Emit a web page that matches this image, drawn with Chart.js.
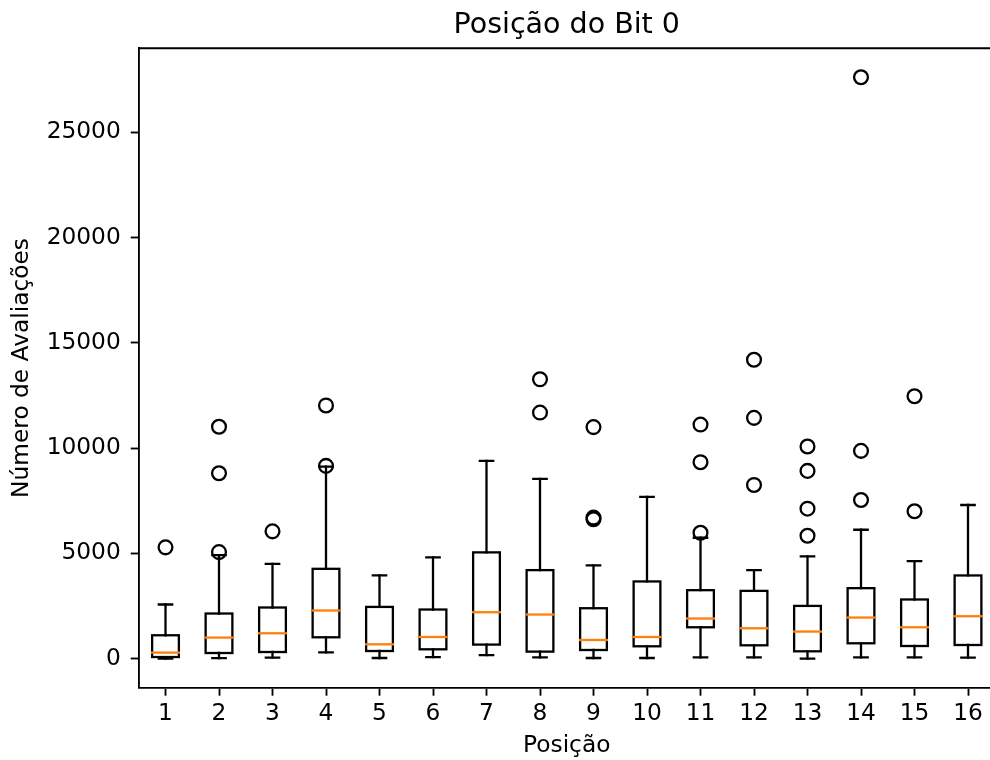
<!DOCTYPE html>
<html lang="pt">
<head>
<meta charset="utf-8">
<title>Posição do Bit 0</title>
<script src="https://cdn.jsdelivr.net/npm/chart.js@4/dist/chart.umd.min.js"></script>
<style>
    html, body { margin: 0; padding: 0; background: #fff; overflow: hidden; }
    #grafico { display: block; }
</style>
</head>
<body>
<canvas id="grafico" width="1000" height="760"></canvas>
<script>
/**
 * Boxplot - número de avaliações por posição do bit 0
 */

const posicoes = ['1', '2', '3', '4', '5', '6', '7', '8', '9', '10', '11', '12', '13', '14', '15', '16'];

// limites dos bigodes, quartis e medianas
const bigodeInf = [0, 20, 48, 300, 29, 76, 171, 62, 29, 29, 62, 62, 0, 62, 62, 48];
const quartil1 = [76, 267, 314, 1014, 362, 443, 667, 333, 410, 586, 1490, 633, 348, 729, 600, 648];
const medianas = [286, 1000, 1205, 2286, 681, 1029, 2205, 2095, 886, 1029, 1905, 1443, 1286, 1952, 1490, 2014];
const quartil3 = [1110, 2143, 2429, 4267, 2457, 2333, 5048, 4205, 2395, 3667, 3252, 3219, 2505, 3348, 2810, 3952];
const bigodeSup = [2571, 4919, 4505, 9124, 3952, 4810, 9395, 8538, 4429, 7681, 5743, 4205, 4857, 6124, 4633, 7300];

// pontos fora dos bigodes
const outliers = [
    [5286],
    [5062, 8810, 11014],
    [6048],
    [9157, 12029],
    [],
    [],
    [],
    [11690, 13270],
    [6620, 6700, 11000],
    [],
    [5981, 9333, 11120],
    [8252, 11440, 14200],
    [5838, 7124, 8919, 10076],
    [7538, 9871, 27620],
    [7000, 12467],
    []
];

const yTicks = [0, 5000, 10000, 15000, 20000, 25000];

const FONTE = "'DejaVu Sans', sans-serif";
const LARGURA_LINHA = 2.3;
const LARGURA_EIXO = 1.85;

/**
 * Contorno das caixas, bigodes, tampas, medianas e moldura superior/direita
 */
const bigodesPlugin = {
    id: 'bigodes',
    afterDatasetsDraw(chart) {
        const ctx = chart.ctx;
        const y = chart.scales.y;
        const caixas = chart.getDatasetMeta(0).data;

        ctx.save();
        ctx.lineWidth = LARGURA_LINHA;
        ctx.lineCap = 'square';
        ctx.lineJoin = 'miter';

        caixas.forEach((caixa, i) => {
            const { x, y: topo, base, width } = caixa.getProps(['x', 'y', 'base', 'width'], true);
            const meia = width / 2;
            const tampa = width / 4;

            ctx.strokeStyle = '#000';

            // contorno da caixa (linha centrada nos quartis)
            ctx.strokeRect(x - meia, Math.min(topo, base), width, Math.abs(base - topo));

            // bigodes
            ctx.beginPath();
            ctx.moveTo(x, y.getPixelForValue(quartil3[i]));
            ctx.lineTo(x, y.getPixelForValue(bigodeSup[i]));
            ctx.moveTo(x, y.getPixelForValue(quartil1[i]));
            ctx.lineTo(x, y.getPixelForValue(bigodeInf[i]));
            ctx.stroke();

            // tampas
            ctx.beginPath();
            ctx.moveTo(x - tampa, y.getPixelForValue(bigodeSup[i]));
            ctx.lineTo(x + tampa, y.getPixelForValue(bigodeSup[i]));
            ctx.moveTo(x - tampa, y.getPixelForValue(bigodeInf[i]));
            ctx.lineTo(x + tampa, y.getPixelForValue(bigodeInf[i]));
            ctx.stroke();

            // mediana
            ctx.strokeStyle = '#ff7f0e';
            ctx.beginPath();
            ctx.moveTo(x - meia, y.getPixelForValue(medianas[i]));
            ctx.lineTo(x + meia, y.getPixelForValue(medianas[i]));
            ctx.stroke();
        });

        // moldura de cima e da direita
        const area = chart.chartArea;
        ctx.strokeStyle = '#000';
        ctx.lineWidth = LARGURA_EIXO;
        ctx.lineCap = 'butt';
        ctx.beginPath();
        ctx.moveTo(area.left, area.top);
        ctx.lineTo(area.right, area.top);
        ctx.lineTo(area.right, area.bottom);
        ctx.stroke();
        ctx.restore();
    }
};

const pontosOutliers = outliers.flatMap((valores, i) =>
    valores.map(v => ({ x: posicoes[i], y: v }))
);

new Chart(document.getElementById('grafico'), {
    type: 'bar',
    data: {
        labels: posicoes,
        datasets: [
            {
                data: quartil1.map((q, i) => [q, quartil3[i]]),
                backgroundColor: '#fff',
                borderWidth: 0,
                inflateAmount: 0,
                barPercentage: 0.5,
                categoryPercentage: 1.0,
                order: 2
            },
            {
                type: 'line',
                data: pontosOutliers,
                showLine: false,
                pointStyle: 'circle',
                pointRadius: 6.9,
                pointHoverRadius: 6.9,
                pointBorderWidth: LARGURA_LINHA,
                pointBorderColor: '#000',
                pointBackgroundColor: 'rgba(0,0,0,0)',
                clip: false,
                order: 1
            }
        ]
    },
    options: {
        responsive: false,
        animation: false,
        events: [],
        layout: {
            autoPadding: false,
            padding: { top: 0, right: 5.25, bottom: 0, left: 0 }
        },
        plugins: {
            legend: { display: false },
            tooltip: { enabled: false },
            title: {
                display: true,
                text: 'Posição do Bit 0',
                fullSize: false,
                color: '#000',
                font: { family: FONTE, size: 28.5, weight: 'normal' },
                padding: { top: 8, bottom: 6 }
            }
        },
        scales: {
            x: {
                type: 'category',
                offset: true,
                grid: {
                    offset: false,
                    drawOnChartArea: false,
                    drawTicks: true,
                    tickLength: 8,
                    tickWidth: LARGURA_EIXO,
                    tickColor: '#000'
                },
                border: { display: true, color: '#000', width: LARGURA_EIXO },
                ticks: {
                    color: '#000',
                    font: { family: FONTE, size: 23.3 },
                    padding: 4,
                    maxRotation: 0,
                    autoSkip: false
                },
                title: {
                    display: true,
                    text: 'Posição',
                    color: '#000',
                    font: { family: FONTE, size: 23.3 },
                    padding: { top: 0, bottom: 0 }
                },
                afterFit(scale) { scale.height = 72.3; }
            },
            y: {
                min: -1381,
                max: 29001,
                grid: {
                    drawOnChartArea: false,
                    drawTicks: true,
                    tickLength: 8,
                    tickWidth: LARGURA_EIXO,
                    tickColor: '#000'
                },
                border: { display: true, color: '#000', width: LARGURA_EIXO },
                afterBuildTicks(scale) {
                    scale.ticks = yTicks.map(v => ({ value: v }));
                },
                ticks: {
                    color: '#000',
                    font: { family: FONTE, size: 23.3 },
                    padding: 10,
                    callback: v => String(v)
                },
                title: {
                    display: true,
                    text: 'Número de Avaliações',
                    color: '#000',
                    font: { family: FONTE, size: 23.3 },
                    padding: { top: 8, bottom: 0 }
                },
                afterFit(scale) { scale.width = 138.75; }
            }
        }
    },
    plugins: [bigodesPlugin]
});
</script>
</body>
</html>
